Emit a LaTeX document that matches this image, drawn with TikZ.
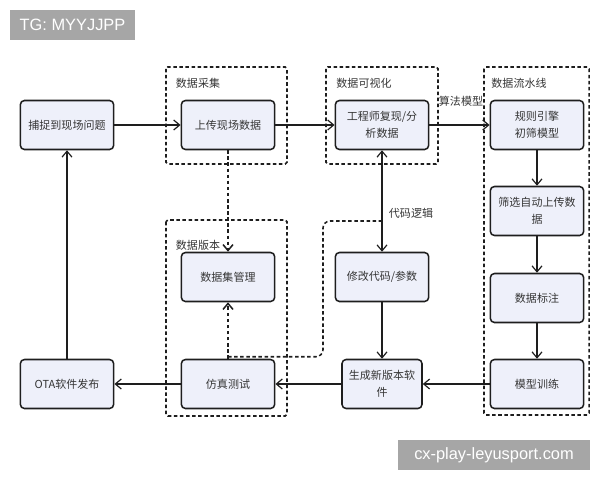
\documentclass[tikz,border=0pt]{standalone}
\usepackage{fontspec}
\usetikzlibrary{arrows.meta}
\newfontfamily\cjk{Noto Sans CJK SC}
\newfontfamily\latinsans{Liberation Sans}
\definecolor{boxfill}{HTML}{EEF0FA}
\definecolor{ink}{HTML}{1E1E1E}
\definecolor{banner}{HTML}{A6A6A6}

\begin{document}
\begin{tikzpicture}
  [x=0.03cm,y=-0.03cm,
   every node/.style={font=\cjk\fontsize{9.4}{14.5}\selectfont,text=ink!90},
   box/.style={draw=ink,fill=boxfill,line width=1.3pt,rounded corners=3.5pt,
     minimum width=2.8cm,minimum height=1.47cm,align=center,inner sep=1pt},
   group/.style={draw=ink,line width=1.3pt,dash pattern=on 3pt off 2.2pt,rounded corners=1.5pt},
   flow/.style={draw=ink,line width=1pt,-{Straight Barb[length=1.8mm,width=3mm]}},
   dflow/.style={flow,dash pattern=on 3pt off 2.2pt,line width=1.3pt},
   tag/.style={inner sep=0pt},
   stamp/.style={fill=banner,text=white,inner sep=0pt,font=\latinsans\fontsize{14}{16}\selectfont}]

  \useasboundingbox (0,0) rectangle (600,480);

  % groups
  \draw [group] (166,67) rectangle (287,164);
  \draw [group] (326,67) rectangle (438,164);
  \draw [group] (484,67) rectangle (589,415);
  \draw [group] (166,220) rectangle (287,416);
  \node [tag] (collecttag) at (198,83) {数据采集};
  \node [tag] (visualtag) at (364,83) {数据可视化};
  \node [tag] (pipetag) at (519,83) {数据流水线};
  \node [tag] (versiontag) at (198,245) {数据版本};

  % boxes
  \node [box] (capture) at (67,125) {捕捉到现场问题};
  \node [box] (upload) at (228,125) {上传现场数据};
  \node [box] (analyze) at (382,125) {工程师复现/分\\析数据};
  \node [box] (rules) at (537,125) {规则引擎\\初筛模型};
  \node [box] (filter) at (537,211) {筛选自动上传数\\据};
  \node [box] (annotate) at (537,298) {数据标注};
  \node [box] (train) at (537,384) {模型训练};
  \node [box,minimum width=2.4cm] (build) at (382,384) {生成新版本软\\件};
  \node [box] (modify) at (382,277) {修改代码/参数};
  \node [box] (dataset) at (228,277) {数据集管理};
  \node [box] (simtest) at (228,384) {仿真测试};
  \node [box] (ota) at (67,384) {OTA软件发布};

  % connectors
  \draw [flow] (capture) -- (upload);
  \draw [flow] (upload) -- (analyze);
  \draw [flow] (analyze) -- (rules);
  \node [tag] (algotag) at (461,101) {算法模型};
  \draw [flow] (rules) -- (filter);
  \draw [flow] (filter) -- (annotate);
  \draw [flow] (annotate) -- (train);
  \draw [flow] (train) -- (build);
  \draw [flow] (modify) -- (build);
  \draw [flow,{Straight Barb[length=1.8mm,width=3mm]}-{Straight Barb[length=1.8mm,width=3mm]}] (modify) -- (analyze);
  \node [tag] (codetag) at (411,213) {代码逻辑};
  \draw [flow] (build) -- (simtest);
  \draw [flow] (simtest) -- (ota);
  \draw [flow] (ota) -- (capture);
  \draw [dflow] (upload) -- (dataset);
  \draw [dflow] (simtest) -- (dataset);
  \coordinate (codejoin) at (382,221);
  \draw [dflow,-,rounded corners=6pt] (simtest.north) ++(0,-2) -| (323,221) -- (codejoin);

  % banners
  \node [stamp,minimum width=3.75cm,minimum height=0.9cm] (tgmark) at (72.5,25) {TG: MYYJJPP};
  \node [stamp,minimum width=5.76cm,minimum height=0.9cm] (sitemark) at (494,455) {cx-play-leyusport.com};
\end{tikzpicture}
\end{document}
